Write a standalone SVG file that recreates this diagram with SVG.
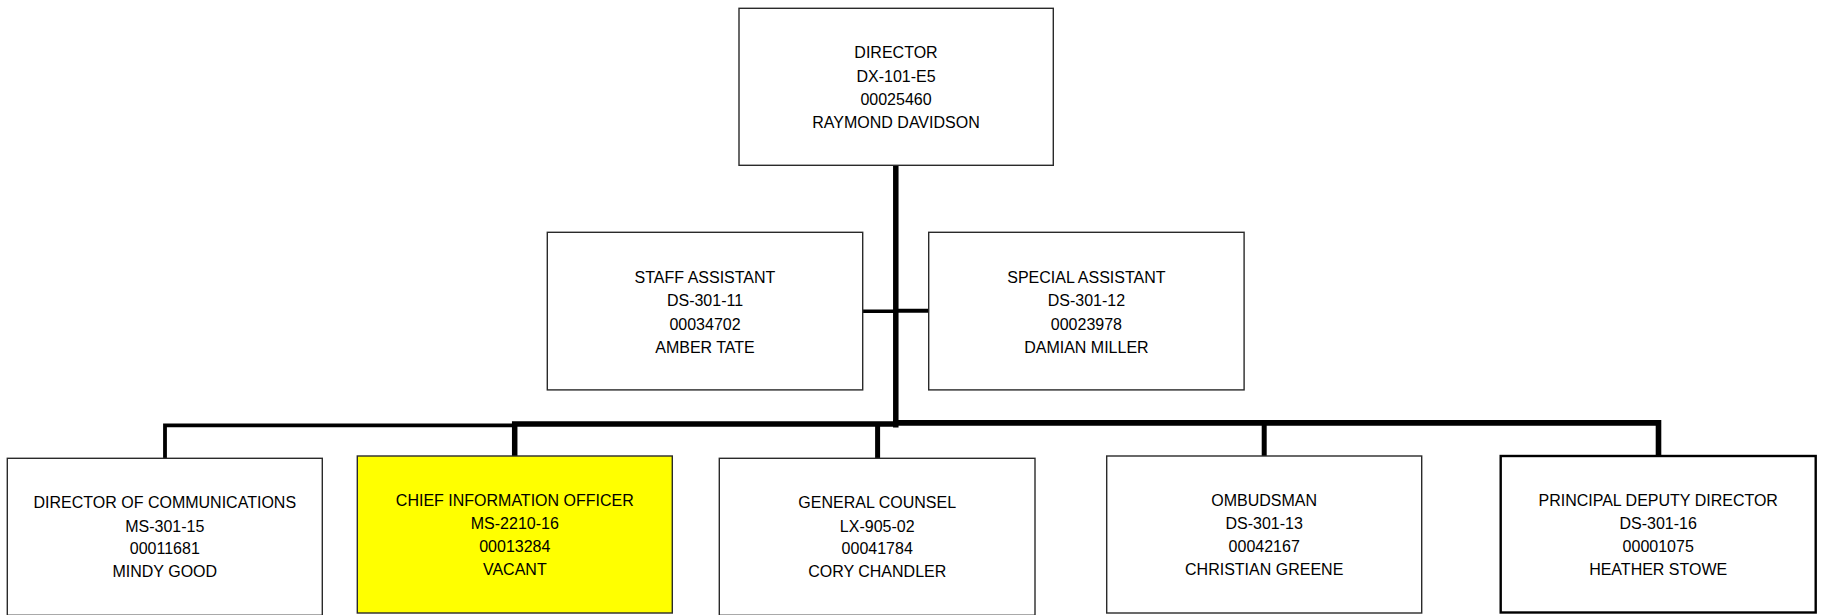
<svg xmlns="http://www.w3.org/2000/svg" width="1822" height="615" viewBox="0 0 1822 615">
  <style>
    .box { fill: #ffffff; stroke: #2a2a2a; stroke-width: 1.4; }
    .vacant { fill: #ffff00; }
    .strong { stroke: #000000; stroke-width: 2.4; }
    .lbl { font-family: "Liberation Sans", Arial, sans-serif; font-size: 16px; fill: #000000; text-anchor: middle; }
    .wire { stroke: #000000; fill: none; stroke-linecap: butt; stroke-linejoin: miter; }
  </style>

  <!-- reporting lines -->
  <g id="connectors">
    <!-- trunk from the director down to the bus -->
    <line class="wire" x1="895.8" y1="165" x2="895.8" y2="427.5" stroke-width="5.5"/>
    <!-- assistants -->
    <line class="wire" x1="862.7" y1="311.2" x2="896" y2="311.2" stroke-width="3.6"/>
    <line class="wire" x1="896" y1="310.7" x2="928.7" y2="310.7" stroke-width="4"/>
    <!-- bus, left part -->
    <path class="wire" d="M165 458.3 V425.3 H515" stroke-width="3.8"/>
    <path class="wire" d="M514.7 456 V424 H896" stroke-width="5.5"/>
    <!-- bus, right part -->
    <path class="wire" d="M893 422.9 H1658.5 V456" stroke-width="5.6" stroke-linejoin="round"/>
    <!-- drops -->
    <line class="wire" x1="877.6" y1="425" x2="877.6" y2="458.3" stroke-width="5"/>
    <line class="wire" x1="1264.2" y1="423" x2="1264.2" y2="456" stroke-width="5"/>
  </g>

  <g id="director">
    <rect class="box" x="739" y="8.3" width="314.3" height="157"/>
    <text class="lbl" x="896" y="58.2">DIRECTOR</text>
    <text class="lbl" x="896" y="81.5">DX-101-E5</text>
    <text class="lbl" x="896" y="104.8">00025460</text>
    <text class="lbl" x="896" y="127.8">RAYMOND DAVIDSON</text>
  </g>

  <g id="staff-assistant">
    <rect class="box" x="547.3" y="232.3" width="315.4" height="157.6"/>
    <text class="lbl" x="705" y="283.3">STAFF ASSISTANT</text>
    <text class="lbl" x="705" y="306.4">DS-301-11</text>
    <text class="lbl" x="705" y="329.6">00034702</text>
    <text class="lbl" x="705" y="352.7">AMBER TATE</text>
  </g>

  <g id="special-assistant">
    <rect class="box" x="928.7" y="232.3" width="315.4" height="157.6"/>
    <text class="lbl" x="1086.4" y="283.3">SPECIAL ASSISTANT</text>
    <text class="lbl" x="1086.4" y="306.4">DS-301-12</text>
    <text class="lbl" x="1086.4" y="329.6">00023978</text>
    <text class="lbl" x="1086.4" y="352.7">DAMIAN MILLER</text>
  </g>

  <g id="director-of-communications">
    <rect class="box" x="7.3" y="458.3" width="315" height="157"/>
    <text class="lbl" x="164.8" y="508.3">DIRECTOR OF COMMUNICATIONS</text>
    <text class="lbl" x="164.8" y="531.5">MS-301-15</text>
    <text class="lbl" x="164.8" y="554.4">00011681</text>
    <text class="lbl" x="164.8" y="577.2">MINDY GOOD</text>
  </g>

  <g id="chief-information-officer">
    <rect class="box vacant" x="357.3" y="456" width="315" height="157"/>
    <text class="lbl" x="514.8" y="506">CHIEF INFORMATION OFFICER</text>
    <text class="lbl" x="514.8" y="529.2">MS-2210-16</text>
    <text class="lbl" x="514.8" y="552.2">00013284</text>
    <text class="lbl" x="514.8" y="575.2">VACANT</text>
  </g>

  <g id="general-counsel">
    <rect class="box" x="719.3" y="458.3" width="315.7" height="157"/>
    <text class="lbl" x="877.2" y="508.3">GENERAL COUNSEL</text>
    <text class="lbl" x="877.2" y="531.5">LX-905-02</text>
    <text class="lbl" x="877.2" y="554.4">00041784</text>
    <text class="lbl" x="877.2" y="577.2">CORY CHANDLER</text>
  </g>

  <g id="ombudsman">
    <rect class="box" x="1106.7" y="456" width="315" height="157"/>
    <text class="lbl" x="1264.2" y="506">OMBUDSMAN</text>
    <text class="lbl" x="1264.2" y="529.2">DS-301-13</text>
    <text class="lbl" x="1264.2" y="552.2">00042167</text>
    <text class="lbl" x="1264.2" y="575.2">CHRISTIAN GREENE</text>
  </g>

  <g id="principal-deputy-director">
    <rect class="box strong" x="1500.7" y="456" width="315" height="156.5"/>
    <text class="lbl" x="1658.2" y="506">PRINCIPAL DEPUTY DIRECTOR</text>
    <text class="lbl" x="1658.2" y="529.2">DS-301-16</text>
    <text class="lbl" x="1658.2" y="552.2">00001075</text>
    <text class="lbl" x="1658.2" y="575.2">HEATHER STOWE</text>
  </g>
</svg>
